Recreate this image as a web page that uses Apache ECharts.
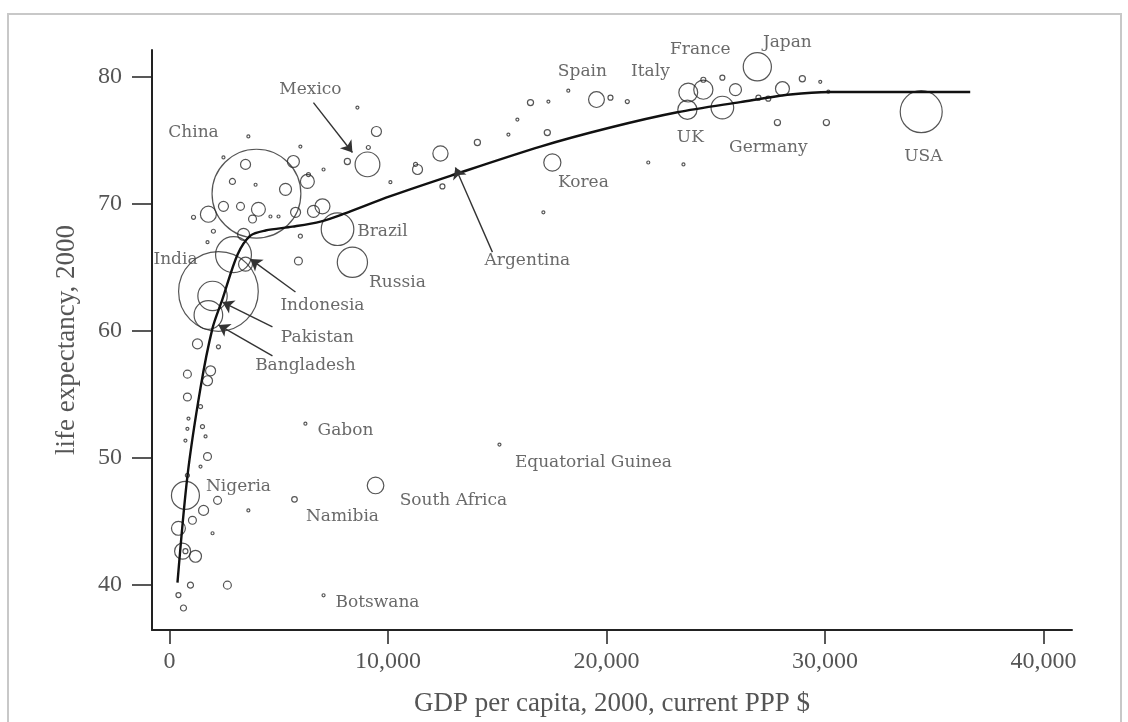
<!DOCTYPE html>
<html>
<head>
<meta charset="utf-8">
<script src="https://cdn.jsdelivr.net/npm/echarts@6/dist/echarts.min.js"></script>
<style>
    html, body { margin: 0; padding: 0; background: #fff; }
    #container { width: 1128px; height: 722px; }
</style>
</head>
<body>
<div id="container"></div>
<script>
// GDP per capita (PPP $), life expectancy, population (millions) per country
var gdp = [34400, 3980, 2240, 2930, 1970, 1780, 730, 7690, 8370, 9060, 12400, 17520, 19540, 23740, 24430, 23700, 25300, 26900,
    9430, 5720, 6220, 15100, 7050,
    25900, 25300, 24430, 28050, 28960, 29780, 30150, 27820, 30060, 26950, 27400, 21910, 23520, 17110, 14090, 15510, 15920,
    16520, 17340, 18250, 17290, 20950, 20180, 12490, 11350, 11260, 8600, 9470, 9100, 8140, 7050, 10110, 5990, 5670, 6310,
    6360, 5310, 3610, 3480, 2470, 2880, 3940, 1780, 2470, 1100, 3250, 4070, 3800, 4620, 4990, 2010, 1740, 3390, 3480, 5770,
    5990, 5900, 7000, 6590, 1280, 2240, 820, 1880, 1740, 820, 1420, 1510, 870, 820, 730, 1650, 1740, 1420, 820, 2200, 1560,
    410, 1050, 1970, 600, 1190, 730, 960, 2650, 410, 640, 3610];
var lifeExp = [77.25, 70.8, 63.1, 66.0, 62.75, 61.25, 47.06, 68.0, 65.4, 73.1, 73.96, 73.25, 78.2, 78.75, 78.98, 77.4, 77.57, 80.78,
    47.84, 46.75, 52.7, 51.06, 39.2,
    78.98, 79.92, 79.76, 79.06, 79.84, 79.6, 78.82, 76.39, 76.39, 78.35, 78.27, 73.25, 73.1, 69.33, 74.82, 75.45, 76.63,
    77.96, 78.04, 78.9, 75.6, 78.04, 78.35, 71.37, 72.7, 73.1, 77.57, 75.69, 74.43, 73.33, 72.7, 71.7, 74.5, 73.33, 71.76,
    72.3, 71.14, 75.3, 73.1, 73.65, 71.76, 71.5, 69.18, 69.8, 68.94, 69.8, 69.57, 68.8, 69.0, 69.0, 67.84, 66.98, 67.6, 65.25, 69.33,
    67.45, 65.5, 69.8, 69.4, 58.98, 58.75, 56.6, 56.86, 56.08, 54.8, 54.04, 52.47, 53.1, 52.3, 51.37, 51.7, 50.12, 49.33, 48.63, 46.67, 45.88,
    44.47, 45.1, 44.08, 42.67, 42.27, 42.67, 40.0, 40.0, 39.22, 38.2, 45.88];
var pop = [282, 1262, 1016, 206, 138, 131, 125, 170, 146, 98, 37, 47, 40, 57, 59, 59, 82, 127,
    44, 5, 1, 0.5, 1.5,
    23, 4, 4, 31, 6, 1.4, 1.4, 6, 6, 4, 4, 1.4, 1.4, 1.4, 6, 1.4, 1.4,
    6, 1.4, 1.4, 6, 2.6, 4, 4, 16, 2.6, 1.4, 16, 2.6, 6, 1.4, 1.4, 1.4, 23, 31,
    2.6, 23, 1.4, 16, 1.4, 5.8, 1.4, 41, 16, 2.6, 10, 31, 10, 1.4, 1.4, 2.6, 1.4, 23, 31, 16,
    2.6, 10, 36, 23, 16, 2.6, 10, 16, 16, 10, 2.6, 2.6, 1.4, 1.4, 1.4, 1.4, 10, 1.4, 2.6, 10, 16,
    31, 10, 1.4, 41, 23, 4, 5.8, 10, 4, 5.8, 1.4];

// fitted curve
var fitGdp = [366, 823, 1418, 1967, 2425, 3111, 3705, 4392, 5627, 6908, 7960, 10110, 12855, 16972, 20174, 23239, 26121, 28408, 30238, 36642];
var fitLife = [40.2, 48.6, 55.5, 60.2, 62.5, 66.0, 67.5, 67.9, 68.2, 68.6, 69.2, 70.6, 72.2, 74.5, 76.0, 77.2, 78.0, 78.6, 78.8, 78.8];

// country labels
var labelNames = ['Mexico', 'China', 'India', 'Indonesia', 'Pakistan', 'Bangladesh', 'Brazil', 'Russia', 'Argentina', 'Korea',
    'Spain', 'Italy', 'France', 'Japan', 'UK', 'Germany', 'USA', 'Gabon', 'Equatorial Guinea', 'South Africa', 'Namibia', 'Botswana', 'Nigeria'];
var labelGdp = [6451, 1098, 274, 7000, 6771, 6222, 9745, 10431, 16379, 18941,
    18895, 22006, 24293, 28274, 23836, 27404, 34496, 8052, 19400, 12993, 7915, 9516, 3157];
var labelLife = [78.98, 75.6, 65.65, 61.96, 59.45, 57.25, 67.84, 63.84, 65.5, 71.69,
    80.39, 80.39, 82.12, 82.67, 75.22, 74.43, 73.73, 52.16, 49.65, 46.67, 45.41, 38.59, 47.76];

// arrows: Mexico, Indonesia, Pakistan, Bangladesh, Argentina
var arrowFrom = [[6588, 77.96], [5765, 63.06], [4712, 60.31], [4712, 58.04], [14777, 66.2]];
var arrowTo = [[8372, 74.04], [3706, 65.65], [2425, 62.27], [2242, 60.47], [13085, 72.86]];

var xTicks = [0, 10000, 20000, 30000, 40000];
var yTicks = [40, 50, 60, 70, 80];

var points = [];
for (var i = 0; i < gdp.length; i++) {
    points.push([gdp[i], lifeExp[i], pop[i]]);
}
var fit = [];
for (var j = 0; j < fitGdp.length; j++) {
    fit.push([fitGdp[j], fitLife[j]]);
}
var labels = [];
for (var k = 0; k < labelNames.length; k++) {
    labels.push({ name: labelNames[k], value: [labelGdp[k], labelLife[k]] });
}
var arrows = [];
for (var a = 0; a < arrowFrom.length; a++) {
    arrows.push([{ coord: arrowFrom[a] }, { coord: arrowTo[a] }]);
}

var axisFont = 'Liberation Serif';

var option = {
    animation: false,
    backgroundColor: '#fff',
    grid: { left: 152, right: 56, top: 50, bottom: 90 },
    graphic: [{
        type: 'rect',
        shape: { x: 8, y: 14, width: 1113, height: 730 },
        style: { fill: 'none', stroke: '#c8c8c8', lineWidth: 2 },
        silent: true
    }],
    xAxis: {
        type: 'value',
        min: -800,
        max: 41300,
        name: 'GDP per capita, 2000, current PPP $',
        nameLocation: 'middle',
        nameGap: 60,
        nameTextStyle: { fontFamily: axisFont, fontSize: 27, color: '#555' },
        splitLine: { show: false },
        axisLine: { onZero: false, lineStyle: { color: '#222', width: 2 } },
        axisTick: { show: true, length: 14, customValues: xTicks, lineStyle: { color: '#222', width: 1.5 } },
        axisLabel: {
            customValues: xTicks,
            margin: 20,
            fontFamily: axisFont,
            fontSize: 24,
            color: '#555',
            formatter: function (v) { return v.toLocaleString('en-US'); }
        }
    },
    yAxis: {
        type: 'value',
        min: 36.47,
        max: 82.1,
        name: 'life expectancy, 2000',
        nameLocation: 'middle',
        nameGap: 72,
        nameTextStyle: { fontFamily: axisFont, fontSize: 27, color: '#555' },
        splitLine: { show: false },
        axisLine: { onZero: false, lineStyle: { color: '#222', width: 2 } },
        axisTick: { show: true, length: 20, customValues: yTicks, lineStyle: { color: '#222', width: 1.5 } },
        axisLabel: {
            customValues: yTicks,
            margin: 30,
            fontFamily: axisFont,
            fontSize: 24,
            color: '#555'
        }
    },
    series: [
        {
            type: 'scatter',
            data: points,
            symbol: 'circle',
            symbolSize: function (val) { return Math.max(3, 2.5 * Math.sqrt(val[2])); },
            itemStyle: { color: 'rgba(255,255,255,0)', borderColor: '#2a2a2a', borderWidth: 1.2 },
            emphasis: { disabled: true },
            silent: true,
            z: 2
        },
        {
            type: 'line',
            data: fit,
            showSymbol: false,
            smooth: 0.3,
            lineStyle: { color: '#111', width: 2.4 },
            emphasis: { disabled: true },
            silent: true,
            z: 3
        },
        {
            type: 'scatter',
            data: labels,
            symbolSize: 0,
            clip: false,
            silent: true,
            label: {
                show: true,
                position: 'inside',
                formatter: '{b}',
                fontFamily: 'DejaVu Serif',
                fontSize: 17,
                color: '#444'
            },
            markLine: {
                silent: true,
                symbol: ['none', 'arrow'],
                symbolSize: 11,
                label: { show: false },
                lineStyle: { color: '#333', width: 1.4, type: 'solid' },
                data: arrows
            },
            z: 4
        }
    ]
};

echarts.init(document.getElementById('container')).setOption(option);
</script>
</body>
</html>
